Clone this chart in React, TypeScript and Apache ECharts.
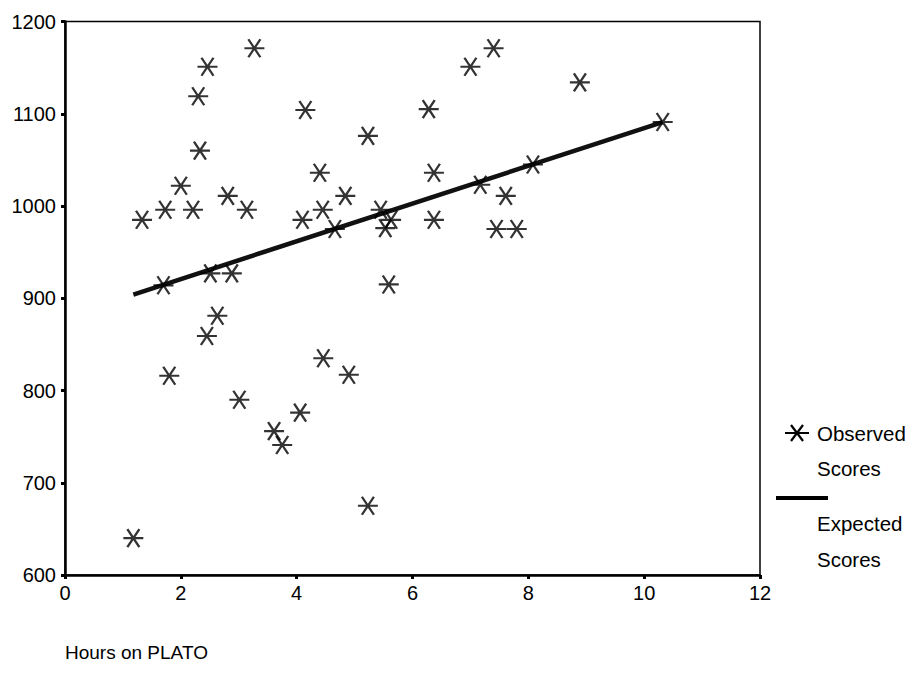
import React, { useEffect, useRef } from "react";
import * as echarts from "echarts";

const obsHours = [
  1.33, 1.18, 1.73, 1.7, 1.8, 2.0, 2.21, 2.3, 2.33, 2.46, 2.51, 2.45, 2.63, 2.81, 2.88, 3.14,
  3.01, 3.27, 3.61, 3.75, 4.06, 4.1, 4.15, 4.4, 4.45, 4.46, 4.66, 4.84, 4.9, 5.23, 5.23, 5.45,
  5.53, 5.63, 5.59, 6.28, 6.37, 6.37, 7.0, 7.4, 7.17, 7.45, 7.61, 7.8, 8.08, 8.89, 10.32,
];
const obsScores = [
  985, 640, 996, 914, 816, 1022, 996, 1119, 1060, 1151, 927, 859, 881, 1011, 927, 996,
  790, 1171, 756, 741, 776, 985, 1104, 1036, 996, 835, 975, 1011, 817, 1076, 675, 996,
  976, 985, 915, 1105, 1036, 985, 1151, 1171, 1023, 975, 1011, 975, 1045, 1134, 1091,
];
const expHours = [1.18, 10.32];
const expScores = [904, 1091];

const xTicks = { min: 0, max: 12, interval: 2 };
const yTicks = { min: 600, max: 1200, interval: 100 };

const legendLabels = ["Observed", "Scores", "Expected", "Scores"];
const xTitle = "Hours on PLATO";

const FONT = "'Liberation Sans', Arial, sans-serif";
const STAR = "path://M0,9 L20,9 M4,0 L16,18 M16,0 L4,18";

export default function App() {
  const ref = useRef<HTMLDivElement>(null);
  useEffect(() => {
    document.body.style.margin = "0";
    if (!ref.current) return;
    const chart = echarts.init(ref.current, undefined, { renderer: "svg" });
    const axisCommon = {
      type: "value" as const,
      axisLine: { show: true, lineStyle: { color: "#000", width: 2.5 } },
      axisTick: { show: true, length: 4, lineStyle: { color: "#000", width: 3 } },
      splitLine: { show: false },
    };
    chart.setOption({
      animation: false,
      backgroundColor: "#fff",
      grid: {
        left: 65,
        right: 152,
        top: 21.5,
        bottom: 98,
        show: true,
        borderColor: "#000",
        borderWidth: 1.5,
        backgroundColor: "transparent",
      },
      xAxis: {
        ...axisCommon,
        min: xTicks.min,
        max: xTicks.max,
        interval: xTicks.interval,
        axisLabel: { color: "#000", fontSize: 20, fontFamily: FONT, margin: 8, formatter: (v: number) => String(v) },
      },
      yAxis: {
        ...axisCommon,
        min: yTicks.min,
        max: yTicks.max,
        interval: yTicks.interval,
        axisLabel: { color: "#000", fontSize: 20, fontFamily: FONT, margin: 9, formatter: (v: number) => String(v) },
      },
      series: [
        {
          name: "Expected Scores",
          type: "line",
          data: expHours.map((h, i) => [h, expScores[i]]),
          showSymbol: false,
          symbol: "none",
          lineStyle: { color: "#111", width: 4.5 },
          z: 2,
        },
        {
          name: "Observed Scores",
          type: "scatter",
          data: obsHours.map((h, i) => [h, obsScores[i]]),
          symbol: STAR,
          symbolSize: [20, 18],
          itemStyle: { color: "transparent", borderColor: "#000", borderWidth: 2.2 },
          z: 3,
        },
      ],
      graphic: [
        {
          type: "text",
          style: { text: xTitle, x: 65, y: 652, verticalAlign: "middle", fontSize: 19, fontFamily: FONT, fill: "#000" },
        },
        {
          type: "group",
          x: 797,
          y: 433,
          children: [
            { type: "line", shape: { x1: -12, y1: 0, x2: 12, y2: 0 }, style: { stroke: "#000", lineWidth: 2 } },
            { type: "line", shape: { x1: -6, y1: -8, x2: 6, y2: 8 }, style: { stroke: "#000", lineWidth: 2.2 } },
            { type: "line", shape: { x1: 6, y1: -8, x2: -6, y2: 8 }, style: { stroke: "#000", lineWidth: 2.2 } },
          ],
        },
        {
          type: "line",
          shape: { x1: 776, y1: 498, x2: 828, y2: 498 },
          style: { stroke: "#000", lineWidth: 4 },
        },
        ...legendLabels.map((t, i) => ({
          type: "text",
          style: {
            text: t,
            x: 817,
            y: [433, 468, 523, 559][i],
            verticalAlign: "middle",
            fontSize: 20.5,
            fontFamily: FONT,
            fill: "#000",
          },
        })),
      ],
    });
    return () => chart.dispose();
  }, []);
  return <div ref={ref} style={{ width: 912, height: 673 }} />;
}
